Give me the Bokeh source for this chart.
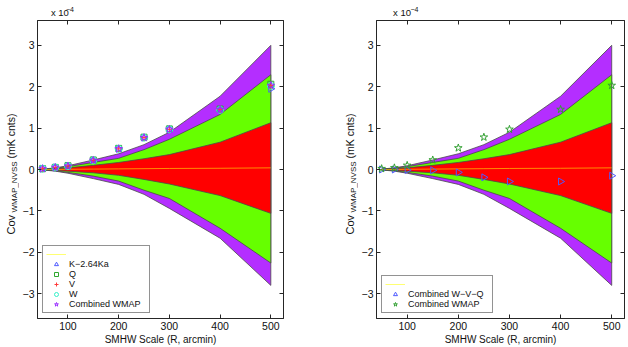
import math
from bokeh.plotting import figure
from bokeh.models import Range1d, FixedTicker, LinearAxis, Legend, LegendItem, Label
from bokeh.layouts import row, column
from bokeh.embed import file_html
from bokeh.resources import INLINE

# ---- data (units of 1e-4 mK cnts) ----
R = [50, 75, 100, 150, 200, 250, 300, 400, 500]
purple_up = [0.01, 0.04, 0.09, 0.23, 0.38, 0.60, 0.90, 1.77, 3.00]
green_up = [0.01, 0.03, 0.07, 0.17, 0.27, 0.48, 0.73, 1.33, 2.29]
red_up = [0.005, 0.02, 0.04, 0.10, 0.17, 0.26, 0.36, 0.66, 1.13]
red_lo = [-0.005, -0.02, -0.04, -0.08, -0.14, -0.24, -0.35, -0.63, -1.06]
green_lo = [-0.01, -0.03, -0.07, -0.16, -0.28, -0.50, -0.70, -1.42, -2.26]
purple_lo = [-0.01, -0.04, -0.09, -0.22, -0.36, -0.60, -0.94, -1.66, -2.80]
mean_line = [0.0, 0.0, 0.005, 0.01, 0.015, 0.02, 0.025, 0.03, 0.04]

K_264Ka = [0.02, 0.05, 0.09, 0.22, 0.50, 0.77, 0.97, 1.45, 1.95]
Q_band = [0.02, 0.05, 0.09, 0.23, 0.51, 0.78, 0.98, 1.46, 2.06]
V_band = [0.02, 0.05, 0.08, 0.22, 0.50, 0.77, 0.97, 1.45, 2.03]
W_band = [0.02, 0.05, 0.08, 0.22, 0.50, 0.77, 0.97, 1.44, 2.02]
comb_wmap = [0.02, 0.05, 0.08, 0.22, 0.50, 0.77, 0.97, 1.45, 2.03]

comb_wvq = [0.0, 0.0, -0.01, -0.02, -0.07, -0.19, -0.29, -0.29, -0.15]
comb_wmap2 = [0.02, 0.04, 0.10, 0.23, 0.52, 0.78, 0.97, 1.45, 2.03]

x_ticks = [100, 200, 300, 400, 500]
y_ticks = [-3, -2, -1, 0, 1, 2, 3]
x_label = "SMHW Scale (R, arcmin)"
y_label_main = "Cov"
y_label_sub = "WMAP_NVSS"
y_label_unit = "(mK cnts)"
exp_base = "x 10"
exp_power = "\u22124"

FONT = "Liberation Sans"
AX = "#262626"
TXT = "#111111"
TOTAL_H = 347
HEAD_H = 20


def blank_fig(w, h):
    f = figure(width=w, height=h, output_backend="svg", toolbar_location=None,
               x_range=Range1d(0, w), y_range=Range1d(0, h), x_axis_type=None, y_axis_type=None,
               min_border=0)
    f.xgrid.visible = False
    f.ygrid.visible = False
    f.outline_line_color = None
    f.background_fill_color = "white"
    f.border_fill_color = "white"
    return f


def ylabel_strip(w, cx):
    s = blank_fig(w, TOTAL_H)
    s.add_layout(Label(x=cx, y=TOTAL_H - 234, text=y_label_main, angle=math.pi / 2, text_font=FONT,
                       text_font_size="11px", text_align="left", text_baseline="middle", text_color=TXT))
    s.add_layout(Label(x=cx + 4, y=TOTAL_H - 212, text=y_label_sub, angle=math.pi / 2, text_font=FONT,
                       text_font_size="8px", text_align="left", text_baseline="middle", text_color=TXT))
    s.add_layout(Label(x=cx, y=TOTAL_H - 158, text=y_label_unit, angle=math.pi / 2, text_font=FONT,
                       text_font_size="10.5px", text_align="left", text_baseline="middle", text_color=TXT))
    return s


def header(w, x0):
    h = blank_fig(w, HEAD_H)
    h.add_layout(Label(x=x0, y=3, text=exp_base, text_font=FONT, text_font_size="9.5px",
                       text_align="left", text_baseline="bottom", text_color=TXT))
    h.add_layout(Label(x=x0 + 19, y=9, text=exp_power, text_font=FONT, text_font_size="7px",
                       text_align="left", text_baseline="bottom", text_color=TXT))
    return h


def make_panel(width, border_left, border_right):
    p = figure(width=width, height=TOTAL_H - HEAD_H, output_backend="svg", toolbar_location=None,
               x_range=Range1d(40, 525), y_range=Range1d(-3.6, 3.6),
               min_border_left=border_left, min_border_right=border_right,
               min_border_top=0, min_border_bottom=26)
    p.xgrid.visible = False
    p.ygrid.visible = False
    p.outline_line_color = AX
    p.background_fill_color = "white"
    p.border_fill_color = "white"

    for ax in (p.xaxis[0], p.yaxis[0]):
        ax.major_tick_in = 4
        ax.major_tick_out = 0
        ax.minor_tick_in = 0
        ax.minor_tick_out = 0
        ax.axis_line_color = AX
        ax.major_tick_line_color = AX
        ax.major_label_text_font = FONT
        ax.major_label_text_font_size = "10.5px"
        ax.major_label_text_color = TXT
    p.xaxis[0].ticker = FixedTicker(ticks=x_ticks)
    p.yaxis[0].ticker = FixedTicker(ticks=y_ticks)
    p.yaxis[0].major_label_overrides = {t: ("\u2212" + str(-t) if t < 0 else str(t)) for t in y_ticks}
    p.xaxis[0].major_label_standoff = 3
    p.yaxis[0].major_label_standoff = 3
    p.xaxis[0].axis_label = x_label
    p.xaxis[0].axis_label_text_font = FONT
    p.xaxis[0].axis_label_text_font_style = "normal"
    p.xaxis[0].axis_label_text_font_size = "10px"
    p.xaxis[0].axis_label_text_color = TXT
    p.xaxis[0].axis_label_standoff = 1

    top = LinearAxis(ticker=FixedTicker(ticks=x_ticks), major_tick_in=4, major_tick_out=0,
                     minor_tick_in=0, minor_tick_out=0, major_label_text_font_size="0px",
                     major_label_standoff=0, axis_line_color=AX, major_tick_line_color=AX)
    right = LinearAxis(ticker=FixedTicker(ticks=y_ticks), major_tick_in=4, major_tick_out=0,
                       minor_tick_in=0, minor_tick_out=0, major_label_text_font_size="0px",
                       major_label_standoff=0, axis_line_color=AX, major_tick_line_color=AX)
    p.add_layout(top, "above")
    p.add_layout(right, "right")

    bands = [(purple_up, purple_lo, "#B42EFF"), (green_up, green_lo, "#66FF00"), (red_up, red_lo, "#FF0000")]
    for up, lo, col in bands:
        p.patch(x=R + R[::-1], y=up + lo[::-1], fill_color=col, line_color="#4a4a4a", line_width=0.8)
    mean_r = p.line(x=R, y=mean_line, line_color="#FFFF00", line_alpha=0.55, line_width=1)
    return p, mean_r


def style_legend(lg, label_w):
    lg.location = "bottom_left"
    lg.margin = 5
    lg.padding = 3
    lg.spacing = 0
    lg.glyph_width = 20
    lg.glyph_height = 10
    lg.label_height = 10
    lg.label_width = label_w
    lg.label_standoff = 3
    lg.label_text_font = FONT
    lg.label_text_font_size = "9px"
    lg.label_text_color = TXT
    lg.border_line_color = AX
    lg.border_line_width = 1
    lg.background_fill_alpha = 1


tri_angle = -math.pi / 2

# ---- left panel ----
p1, m1 = make_panel(311, 16, 47)
rk = p1.scatter(R, K_264Ka, marker="triangle", size=7, angle=tri_angle, fill_color=None,
                line_color="#4F5BFF", line_width=1)
rq = p1.scatter(R, Q_band, marker="square", size=6, fill_color=None, line_color="#2EA82E", line_width=1)
rv = p1.scatter(R, V_band, marker="cross", size=7, line_color="#FF3A3A", line_width=1)
rw = p1.scatter(R, W_band, marker="circle", size=7, fill_color=None, line_color="#35F0C8", line_width=1)
rc = p1.scatter(R, comb_wmap, marker="star", size=8, fill_color=None, line_color="#9A2EFF", line_width=1)
lg1 = Legend(items=[LegendItem(label=" ", renderers=[m1]),
                    LegendItem(label="K\u22122.64Ka", renderers=[rk]),
                    LegendItem(label="Q", renderers=[rq]),
                    LegendItem(label="V", renderers=[rv]),
                    LegendItem(label="W", renderers=[rw]),
                    LegendItem(label="Combined WMAP", renderers=[rc])])
style_legend(lg1, 77)
p1.add_layout(lg1)

# ---- right panel ----
p2, m2 = make_panel(270, 17, 4)
rt = p2.scatter(R, comb_wvq, marker="triangle", size=7, angle=tri_angle, fill_color=None,
                line_color="#4F5BFF", line_width=1)
rs = p2.scatter(R, comb_wmap2, marker="star", size=8, fill_color=None, line_color="#33A033", line_width=1)
lg2 = Legend(items=[LegendItem(label=" ", renderers=[m2]),
                    LegendItem(label="Combined W\u2212V\u2212Q", renderers=[rt]),
                    LegendItem(label="Combined WMAP", renderers=[rs])])
style_legend(lg2, 81)
p2.add_layout(lg2)

strip1 = ylabel_strip(19, 10)
strip2 = ylabel_strip(28, 19)
layout = row(strip1, column(header(311, 17), p1), strip2, column(header(270, 18), p2))
open("out.html", "w").write(file_html(layout, INLINE))
